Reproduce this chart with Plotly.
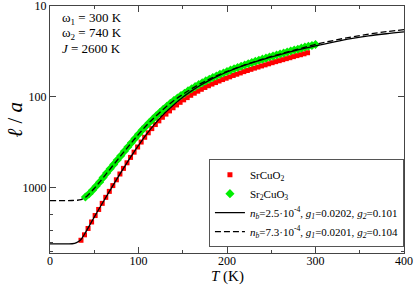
import plotly.graph_objects as go

# SrCuO2 data (red squares)
T_red = [35, 39, 43, 47, 51, 55, 59, 63, 67, 71, 75, 79, 83, 87, 91, 95, 99, 103, 107, 111,
         115, 119, 123, 127, 131, 135, 139, 143, 147, 151, 155, 159, 163, 167, 171, 175, 179,
         183, 187, 191, 195, 199, 203, 207, 211, 215, 219, 223, 227, 231, 235, 239, 243, 247,
         251, 255, 259, 263, 267, 271, 275, 279, 283, 287, 291]
L_red = [3800, 3310, 2820, 2390, 2030, 1740, 1490, 1280, 1100, 950, 820, 708, 614, 533, 465,
         407, 357, 315, 279, 249, 224, 202, 184, 168, 155, 143, 132, 123, 115, 108, 102, 96.2,
         91.2, 86.7, 82.6, 78.9, 75.5, 72.4, 69.7, 67.0, 64.6, 62.4, 60.3, 58.2, 56.4, 54.6,
         52.8, 51.3, 49.8, 48.3, 47.0, 45.7, 44.5, 43.3, 42.1, 41.0, 40.0, 39.0, 38.0, 37.1,
         36.1, 35.2, 34.4, 33.6, 32.7]

# Sr2CuO3 data (green diamonds)
T_green = [40, 44, 48, 52, 56, 60, 64, 68, 72, 76, 80, 84, 88, 92, 96, 100, 104, 108, 112, 116,
           120, 124, 128, 132, 136, 140, 144, 148, 152, 156, 160, 164, 168, 172, 176, 180, 184,
           188, 192, 196, 200, 204, 208, 212, 216, 220, 224, 228, 232, 236, 240, 244, 248, 252,
           256, 260, 264, 268, 272, 276, 280, 284, 288, 292, 296, 300]
L_green = [1270, 1175, 1072, 966, 871, 776, 692, 619, 555, 497, 445, 398, 357, 321, 288, 258,
           233, 212, 193, 177, 162, 149, 137, 127, 118, 110, 103, 96.8, 91.2, 86.1, 81.5, 77.3,
           73.5, 70.0, 66.8, 64.0, 61.4, 58.9, 56.6, 54.6, 52.6, 50.8, 49.1, 47.5, 46.0, 44.6,
           43.3, 42.0, 40.7, 39.6, 38.5, 37.5, 36.5, 35.6, 34.7, 33.8, 33.0, 32.1, 31.3, 30.5,
           29.9, 29.1, 28.4, 27.8, 27.2, 26.5]

# Model curves
T_fit = [0, 10, 20, 25, 30, 35, 40, 45, 50, 55, 60, 70, 80, 90, 100, 110, 120, 130, 140, 150,
         160, 170, 180, 190, 200, 220, 240, 260, 280, 300, 320, 340, 360, 380, 400]
L_fit1 = [4170, 4170, 4170, 4150, 4030, 3720, 3130, 2570, 2110, 1740, 1440, 989, 684, 479, 343,
          251, 191, 150, 122, 101, 86.1, 74.6, 65.8, 58.9, 53.3, 44.9, 38.9, 34.3, 30.5, 27.5,
          25.0, 22.9, 21.3, 20.2, 19.3]
L_fit2 = [1390, 1390, 1390, 1387, 1380, 1356, 1282, 1153, 1023, 895, 780, 589, 445, 339, 259,
          202, 162, 132, 110, 94.0, 81.5, 71.6, 64.0, 57.7, 52.6, 44.6, 38.5, 33.8, 29.9, 26.5,
          24.0, 22.0, 20.4, 19.2, 18.2]

x_ticks = [0, 100, 200, 300, 400]
y_ticks = [10, 100, 1000]
params = ["ω<sub>1</sub> = 300 K", "ω<sub>2</sub> = 740 K", "<i>J</i> = 2600 K"]

FONT = "Liberation Serif"
AX = "#444"

fig = go.Figure()
fig.add_trace(go.Scatter(x=T_red, y=L_red, mode="markers", name="SrCuO<sub>2</sub>",
                         marker=dict(symbol="square", size=5, color="#ff0000")))
fig.add_trace(go.Scatter(x=T_green, y=L_green, mode="markers", name="Sr<sub>2</sub>CuO<sub>3</sub>",
                         marker=dict(symbol="diamond", size=7, color="#00ee00")))
fig.add_trace(go.Scatter(x=T_fit, y=L_fit1, mode="lines", line_shape="spline",
                         name="<i>n<sub>b</sub></i>=2.5·10<sup>-4</sup>, <i>g<sub>1</sub></i>=0.0202, <i>g<sub>2</sub></i>=0.101",
                         line=dict(color="black", width=1.3)))
fig.add_trace(go.Scatter(x=T_fit, y=L_fit2, mode="lines", line_shape="spline",
                         name="<i>n<sub>b</sub></i>=7.3·10<sup>-4</sup>, <i>g<sub>1</sub></i>=0.0201, <i>g<sub>2</sub></i>=0.104",
                         line=dict(color="black", width=1.3, dash="6px,3px")))

for i, txt in enumerate(params):
    fig.add_annotation(text=txt, xref="paper", yref="paper", x=0.028, y=0.949 - i * 0.061,
                       xanchor="left", yanchor="middle", showarrow=False,
                       font=dict(family=FONT, size=13, color="black"))

# axis titles
fig.add_annotation(text="<i>T</i> (K)", xref="paper", yref="paper", x=0.5, y=-0.095,
                   xanchor="center", yanchor="middle", showarrow=False,
                   font=dict(family=FONT, size=15, color="black"))
fig.add_annotation(text="<i>ℓ</i> / <i>a</i>", xref="paper", yref="paper", x=-0.099, y=0.54,
                   xanchor="center", yanchor="middle", showarrow=False, textangle=-90,
                   font=dict(family=FONT, size=21, color="black"))

fig.update_layout(
    width=415, height=285,
    margin=dict(l=50, r=11, t=6, b=32, autoexpand=False),
    paper_bgcolor="white", plot_bgcolor="white",
    font=dict(family=FONT, size=12, color="black"),
    showlegend=True,
    legend=dict(x=0.449, y=0.38, xanchor="left", yanchor="top",
                bgcolor="white", bordercolor="#555", borderwidth=1,
                font=dict(family=FONT, size=11), tracegroupgap=0,
                itemwidth=30),
)
fig.update_xaxes(range=[0, 400], tickvals=x_ticks, ticks="inside", ticklen=6,
                 showline=True, linecolor=AX, linewidth=1, mirror="ticks",
                 showgrid=False, zeroline=False, automargin=False, ticklabelstandoff=-3,
                 ticklabeloverflow="allow",
                 minor=dict(ticks="inside", ticklen=3, dtick=50, tickcolor=AX),
                 tickcolor=AX)
fig.update_yaxes(type="log", range=[3.72, 1], tickvals=y_ticks, ticks="inside", ticklen=6,
                 showline=True, linecolor=AX, linewidth=1, mirror="ticks",
                 showgrid=False, zeroline=False, tickcolor=AX, automargin=False,
                 ticklabeloverflow="allow",
                 minor=dict(ticks="inside", ticklen=3, tickcolor=AX, showgrid=False))

fig.write_html("out.html", config={"displayModeBar": False},
               post_script="document.body.style.margin='0';")
